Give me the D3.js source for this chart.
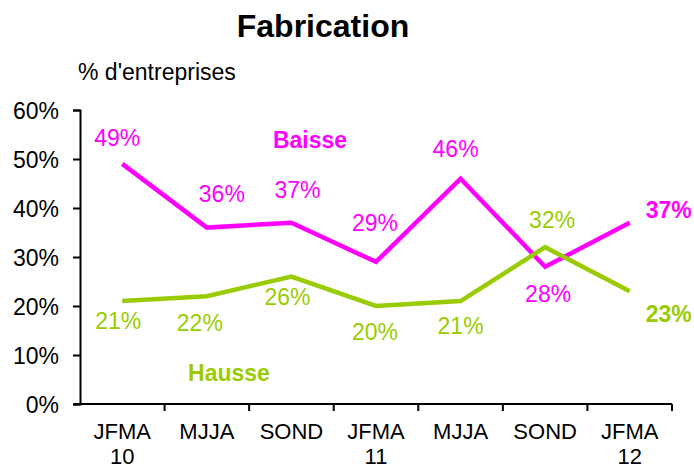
<!DOCTYPE html>
<html><head><meta charset="utf-8">
<script src="https://cdn.jsdelivr.net/npm/d3@7"></script>
<style>body{margin:0;background:#fff}svg{display:block;font-family:Arial,"Liberation Sans",sans-serif}</style>
</head><body>
<script>
const categories = ["JFMA|10","MJJA","SOND","JFMA|11","MJJA","SOND","JFMA|12"];
const baisse = [49,36,37,29,46,28,37];
const hausse = [21,22,26,20,21,32,23];
const yTicks = [0,10,20,30,40,50,60];
const title = "Fabrication";
const subtitle = "% d'entreprises";
// label offsets (dx, baseline dy) relative to each point
const baisseLabelOff = [[-5,-18],[15,-26],[6,-25],[-1,-31],[-5,-22],[3,35],[39,-5]];
const hausseLabelOff = [[-4,28],[-7,35],[-4,28],[-1,34],[0,33],[7,-19],[39,31]];

const W=694,H=468;
const FS=23;
const m={left:80,right:22,top:110,bottom:64};
const svg=d3.select("body").append("svg").attr("width",W).attr("height",H);
const x=d3.scaleBand().domain(d3.range(categories.length)).range([m.left,W-m.right]);
const y=d3.scaleLinear().domain([0,60]).range([H-m.bottom,m.top]);

svg.append("text").attr("x",323).attr("y",37).attr("text-anchor","middle")
  .attr("font-size",32).attr("font-weight","bold").text(title);
svg.append("text").attr("x",78).attr("y",80).attr("font-size",FS).text(subtitle);

const ya=svg.append("g").attr("transform",`translate(${m.left},0)`)
  .call(d3.axisLeft(y).tickValues(yTicks).tickFormat(d=>d+"%").tickSizeOuter(0).tickSize(7));
ya.select(".domain").attr("stroke","#000").attr("stroke-width",2);
ya.selectAll(".tick line").attr("stroke","#000").attr("stroke-width",2);
ya.selectAll(".tick text").attr("font-size",FS).attr("fill","#000").attr("x",-21).attr("dy","0.35em")
  .attr("font-family","Arial, Liberation Sans, sans-serif");

const xa=svg.append("g").attr("transform",`translate(0,${H-m.bottom})`);
xa.append("line").attr("x1",m.left-6).attr("x2",W-m.right).attr("stroke","#000").attr("stroke-width",2);
const edges=d3.range(categories.length).map(i=>x(i)+x.bandwidth());
xa.selectAll(".tk").data(edges).join("line").attr("x1",d=>d).attr("x2",d=>d).attr("y1",0).attr("y2",7)
  .attr("stroke","#000").attr("stroke-width",2);
categories.forEach((c,i)=>{
  const parts=c.split("|");
  parts.forEach((p,j)=>xa.append("text").attr("text-anchor","middle").attr("font-size",22).attr("fill","#000")
    .attr("x",x(i)+x.bandwidth()/2).attr("y",35+j*25).text(p));
});

const line=d3.line().x((d,i)=>x(i)+x.bandwidth()/2).y(d=>y(d));
function series(vals,color,offs){
  svg.append("path").datum(vals).attr("d",line).attr("fill","none").attr("stroke",color)
    .attr("stroke-width",4.5).attr("stroke-linejoin","miter");
  svg.selectAll(null).data(vals).join("text")
    .attr("x",(d,i)=>x(i)+x.bandwidth()/2+offs[i][0])
    .attr("y",(d,i)=>y(d)+offs[i][1])
    .attr("text-anchor","middle").attr("font-size",FS).attr("fill",color)
    .attr("font-weight",(d,i)=>i===vals.length-1?"bold":"normal")
    .text(d=>d+"%");
}
series(baisse,"#FF00FF",baisseLabelOff);
series(hausse,"#99CC00",hausseLabelOff);

svg.append("text").attr("x",310).attr("y",148).attr("text-anchor","middle").attr("font-size",FS)
  .attr("font-weight","bold").attr("fill","#FF00FF").text("Baisse");
svg.append("text").attr("x",229).attr("y",381).attr("text-anchor","middle").attr("font-size",FS)
  .attr("font-weight","bold").attr("fill","#99CC00").text("Hausse");
</script>
</body></html>
